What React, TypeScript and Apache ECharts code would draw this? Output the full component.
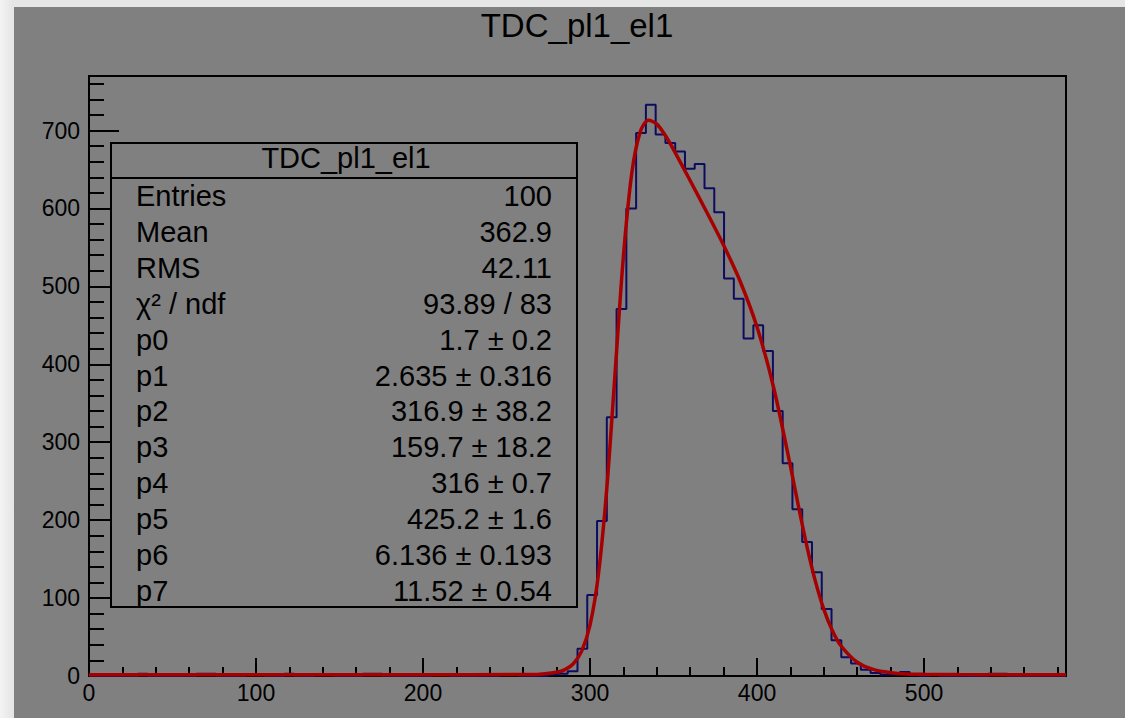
import React, { useEffect, useRef } from 'react';
import * as echarts from 'echarts';

const chartTitle = 'TDC_pl1_el1';
const binWidth = 5.85;
const xMin = 0;
const xMax = 585;
const yMin = 0;
const yMax = 770;

// histogram bin contents (100 bins of width 5.85 from 0)
const counts = [
  0, 0, 0, 0, 0, 3, 0, 0, 0, 0,
  0, 3, 3, 0, 0, 0, 2, 2, 0, 0,
  3, 0, 0, 2, 2, 0, 0, 0, 3, 3,
  0, 0, 0, 0, 0, 2, 2, 0, 0, 0,
  0, 0, 2, 2, 0, 0, 0, 2, 3, 6,
  35, 104, 199, 332, 471, 600, 697, 733, 695, 684,
  673, 651, 657, 626, 595, 510, 484, 433, 450, 417,
  340, 273, 214, 172, 133, 86, 46, 24, 16, 8,
  4, 2, 2, 5, 1, 0, 2, 0, 0, 0,
  0, 0, 3, 3, 0, 0, 0, 0, 0, 0,
];

// fitted curve
const fitX = [0, 100, 200, 260, 270, 280, 285, 290, 295, 300, 305, 310, 315, 320, 325, 330, 335, 340, 345, 350, 360, 370, 380, 390, 400, 410, 420, 425, 430, 435, 440, 445, 450, 460, 470, 480, 490, 500, 520, 585];
const fitY = [1.7, 1.7, 1.7, 1.8, 2.3, 4.7, 8.2, 15.7, 31.9, 65.2, 129.8, 239.4, 388.8, 538.9, 645.2, 698, 713.2, 708.3, 693.9, 675.6, 635.6, 594.9, 552.8, 506, 447.8, 369.6, 269.3, 215.8, 165.2, 121.1, 85.5, 58.7, 39.5, 17.6, 8.1, 4.3, 2.7, 2.1, 1.8, 1.7];

const statLabels = ['Entries', 'Mean', 'RMS', 'χ² / ndf', 'p0', 'p1', 'p2', 'p3', 'p4', 'p5', 'p6', 'p7'];
const statValues = ['100', '362.9', '42.11', '93.89 / 83', '1.7 ± 0.2', '2.635 ± 0.316', '316.9 ± 38.2', '159.7 ± 18.2', '316 ± 0.7', '425.2 ± 1.6', '6.136 ± 0.193', '11.52 ± 0.54'];

const FONT = '"Liberation Sans", Arial, Helvetica, sans-serif';

export default function App() {
  const ref = useRef<HTMLDivElement>(null);
  useEffect(() => {
    if (!ref.current) return;
    const chart = echarts.init(ref.current, undefined, { renderer: 'svg' });

    const histData: number[][] = counts.map((c, i) => [xMin + i * binWidth, c]);
    histData.push([xMax, counts[counts.length - 1]]);
    const fitData = fitX.map((x, i) => [x, fitY[i]]);

    const boxX = 111, boxY = 143, boxW = 466, boxH = 464, headerY = 178;
    const rowY0 = 196, rowStep = 35.9;

    const statTexts: any[] = [];
    statLabels.forEach((l, i) => {
      statTexts.push({
        type: 'text', z: 101, x: 136, y: rowY0 + i * rowStep,
        style: { text: l, font: `29px ${FONT}`, fill: '#000', textAlign: 'left', textVerticalAlign: 'middle' },
      });
      statTexts.push({
        type: 'text', z: 101, x: 552, y: rowY0 + i * rowStep,
        style: { text: statValues[i], font: `29px ${FONT}`, fill: '#000', textAlign: 'right', textVerticalAlign: 'middle' },
      });
    });

    const labelFmt = (v: number) => (Math.abs(v % 100) < 1e-6 ? String(v) : '');

    chart.setOption({
      animation: false,
      backgroundColor: '#808080',
      grid: { left: 89, right: 59, top: 76, bottom: 42, show: true, borderColor: '#000', borderWidth: 2, backgroundColor: 'transparent' },
      xAxis: [
        {
          type: 'value', min: xMin, max: xMax, interval: 20, position: 'bottom',
          axisLine: { show: true, lineStyle: { color: '#000', width: 2 } },
          axisTick: { show: true, inside: true, length: 9, lineStyle: { color: '#000', width: 2 } },
          axisLabel: { show: true, formatter: labelFmt, color: '#000', fontSize: 23, fontFamily: FONT, margin: 5, showMaxLabel: false },
          splitLine: { show: false },
        },
        {
          type: 'value', min: xMin, max: xMax, interval: 100, position: 'bottom', offset: 0,
          axisLine: { show: false },
          axisTick: { show: true, inside: true, length: 18, lineStyle: { color: '#000', width: 2 } },
          axisLabel: { show: false },
          splitLine: { show: false },
        },
      ],
      yAxis: [
        {
          type: 'value', min: yMin, max: yMax, interval: 20, position: 'left',
          axisLine: { show: true, lineStyle: { color: '#000', width: 2 } },
          axisTick: { show: true, inside: true, length: 15, lineStyle: { color: '#000', width: 2 } },
          axisLabel: { show: true, formatter: labelFmt, color: '#000', fontSize: 23, fontFamily: FONT, margin: 9, showMaxLabel: false },
          splitLine: { show: false },
        },
        {
          type: 'value', min: yMin, max: yMax, interval: 100, position: 'left', offset: 0,
          axisLine: { show: false },
          axisTick: { show: true, inside: true, length: 30, lineStyle: { color: '#000', width: 2 } },
          axisLabel: { show: false },
          splitLine: { show: false },
        },
      ],
      series: [
        {
          type: 'line', name: 'hist', xAxisIndex: 0, yAxisIndex: 0, data: histData, step: 'end',
          symbol: 'none', lineStyle: { color: '#0c0c60', width: 2 }, z: 3,
        },
        {
          type: 'line', name: 'fit', xAxisIndex: 0, yAxisIndex: 0, data: fitData, smooth: 0.3,
          symbol: 'none', lineStyle: { color: '#a60000', width: 3.5 }, z: 4,
        },
      ],
      graphic: [
        { type: 'rect', z: 100, shape: { x: 0, y: 0, width: 1125, height: 7 }, style: { fill: '#e6e6e6' } },
        {
          type: 'rect', z: 100, shape: { x: 0, y: 0, width: 14, height: 718 },
          style: { fill: new echarts.graphic.LinearGradient(0, 0, 1, 0, [{ offset: 0, color: '#f4f4f4' }, { offset: 1, color: '#e4e4e4' }]) },
        },
        {
          type: 'text', z: 101, x: 577, y: 25,
          style: { text: chartTitle, font: `33px ${FONT}`, fill: '#000', textAlign: 'center', textVerticalAlign: 'middle' },
        },
        {
          type: 'rect', z: 100, shape: { x: boxX, y: boxY, width: boxW, height: boxH },
          style: { fill: '#808080', stroke: '#000', lineWidth: 2 },
        },
        { type: 'line', z: 101, shape: { x1: boxX, y1: headerY, x2: boxX + boxW, y2: headerY }, style: { stroke: '#000', lineWidth: 2 } },
        {
          type: 'text', z: 101, x: boxX + boxW / 2 + 2, y: 158,
          style: { text: chartTitle, font: `29px ${FONT}`, fill: '#000', textAlign: 'center', textVerticalAlign: 'middle' },
        },
        ...statTexts,
      ],
    });
    return () => chart.dispose();
  }, []);
  return <div ref={ref} style={{ position: 'fixed', left: 0, top: 0, width: 1125, height: 718 }} />;
}
